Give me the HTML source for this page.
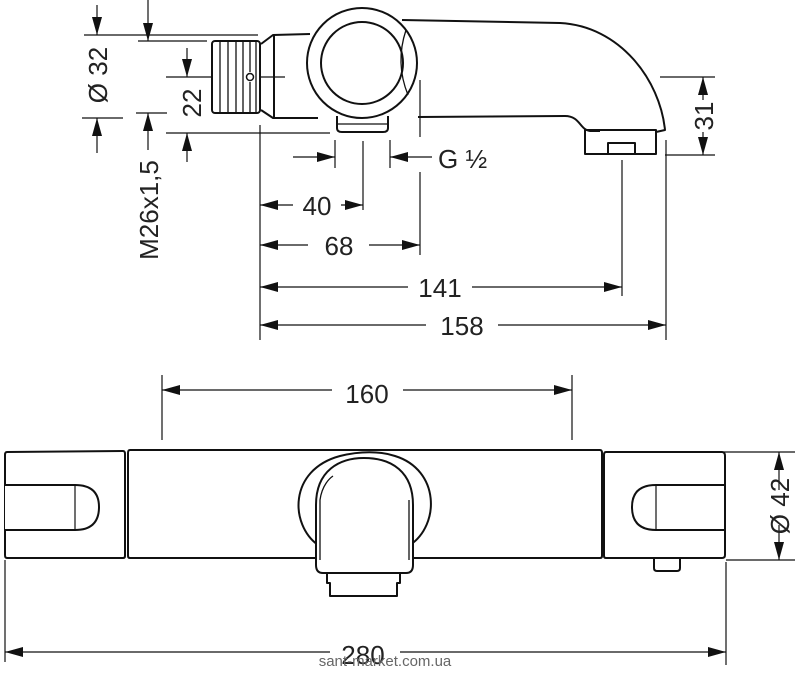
<!DOCTYPE html>
<html><head><meta charset="utf-8"><style>
html,body{margin:0;padding:0;background:#fff;}
svg{display:block;}
text{font-family:"Liberation Sans",sans-serif;fill:#222;}
</style></head><body>
<svg width="800" height="673" viewBox="0 0 800 673" xmlns="http://www.w3.org/2000/svg">
<defs>
<marker id="a" viewBox="0 0 18 10" refX="18" refY="5" markerWidth="18" markerHeight="10" markerUnits="userSpaceOnUse" orient="auto"><path d="M0,0 L18,5 L0,10 Z" fill="#111"/></marker>
</defs>
<g stroke="#111" fill="none" stroke-width="1.2">
<line x1="84" y1="35" x2="258" y2="35"/>
<line x1="82" y1="118" x2="123" y2="118"/>
<line x1="97" y1="5" x2="97" y2="35" marker-end="url(#a)"/>
<line x1="97" y1="153" x2="97" y2="118" marker-end="url(#a)"/>
<line x1="138" y1="41" x2="207" y2="41"/>
<line x1="136" y1="113" x2="167" y2="113"/>
<line x1="148" y1="0" x2="148" y2="41" marker-end="url(#a)"/>
<line x1="148" y1="150" x2="148" y2="113" marker-end="url(#a)"/>
<line x1="166" y1="77" x2="285" y2="77"/>
<line x1="166" y1="133" x2="330" y2="133"/>
<line x1="187" y1="48" x2="187" y2="77" marker-end="url(#a)"/>
<line x1="187" y1="162" x2="187" y2="133" marker-end="url(#a)"/>
</g>
<g stroke="#111" stroke-width="2" fill="#fff">
<rect x="212" y="41" width="48" height="72" rx="3"/>
</g>
<g stroke="#111" stroke-width="1.3">
<line x1="220" y1="42" x2="220" y2="112"/><line x1="228" y1="42" x2="228" y2="112"/><line x1="236" y1="42" x2="236" y2="112"/><line x1="243" y1="42" x2="243" y2="112"/><line x1="250" y1="42" x2="250" y2="72"/><line x1="250" y1="82" x2="250" y2="112"/><line x1="256" y1="42" x2="256" y2="112"/>
</g>
<circle cx="250" cy="77" r="3.5" fill="#fff" stroke="#111" stroke-width="1.5"/>
<g stroke="#111" stroke-width="2" fill="none" stroke-linejoin="round">
<path d="M261,44 L273,35 L310,34 M261,110 L273,118 L318,118"/>
<line x1="274" y1="35" x2="274" y2="118"/>
<path d="M402,20 L560,23 C620,26 660,80 665,130 L656,132"/>
<path d="M418,117 L565,116 C580,116 580,130 590,131 L600,131"/>
<rect x="585" y="130" width="71" height="24"/>
<rect x="608" y="143" width="27" height="11"/>
<path d="M337,116 L337,128 Q337,132 342,132 L383,132 Q388,132 388,128 L388,116"/>
<line x1="338" y1="124" x2="387" y2="124" stroke-width="1.2"/>
<circle cx="362" cy="63" r="55" fill="#fff"/>
<circle cx="362" cy="63" r="41"/>
<path d="M406,30 Q395,63 408,95" stroke-width="1.3"/>
</g>
<g stroke="#111" stroke-width="1.2" fill="none">
<line x1="260" y1="125" x2="260" y2="340"/>
<line x1="335" y1="140" x2="335" y2="168"/>
<line x1="363" y1="141" x2="363" y2="210"/>
<line x1="420" y1="80" x2="420" y2="137"/>
<line x1="390" y1="140" x2="390" y2="168"/>
<line x1="420" y1="172" x2="420" y2="255"/>
<line x1="622" y1="160" x2="622" y2="296"/>
<line x1="666" y1="140" x2="666" y2="340"/>
<line x1="293" y1="157" x2="335" y2="157" marker-end="url(#a)"/>
<line x1="432" y1="157" x2="390" y2="157" marker-end="url(#a)"/>
<line x1="293" y1="205" x2="260" y2="205" marker-end="url(#a)"/>
<line x1="341" y1="205" x2="363" y2="205" marker-end="url(#a)"/>
<line x1="308" y1="245" x2="260" y2="245" marker-end="url(#a)"/>
<line x1="369" y1="245" x2="420" y2="245" marker-end="url(#a)"/>
<line x1="408" y1="287" x2="260" y2="287" marker-end="url(#a)"/>
<line x1="472" y1="287" x2="622" y2="287" marker-end="url(#a)"/>
<line x1="426" y1="325" x2="260" y2="325" marker-end="url(#a)"/>
<line x1="498" y1="325" x2="666" y2="325" marker-end="url(#a)"/>
<line x1="660" y1="77" x2="715" y2="77"/>
<line x1="665" y1="155" x2="715" y2="155"/>
<line x1="703" y1="100" x2="703" y2="77" marker-end="url(#a)"/>
<line x1="703" y1="132" x2="703" y2="155" marker-end="url(#a)"/>
</g>
<g font-size="26">
<text x="317" y="215" text-anchor="middle">40</text>
<text x="339" y="255" text-anchor="middle">68</text>
<text x="440" y="297" text-anchor="middle">141</text>
<text x="462" y="335" text-anchor="middle">158</text>
<text x="438" y="168">G ½</text>
<text transform="translate(107,75) rotate(-90)" text-anchor="middle">Ø 32</text>
<text transform="translate(158,210) rotate(-90)" text-anchor="middle">M26x1,5</text>
<text transform="translate(201,103) rotate(-90)" text-anchor="middle">22</text>
<text transform="translate(713,116) rotate(-90)" text-anchor="middle">31</text>
</g>
<g stroke="#111" stroke-width="1.2" fill="none">
<line x1="162" y1="375" x2="162" y2="440"/>
<line x1="572" y1="375" x2="572" y2="440"/>
<line x1="332" y1="390" x2="162" y2="390" marker-end="url(#a)"/>
<line x1="403" y1="390" x2="572" y2="390" marker-end="url(#a)"/>
<line x1="5" y1="560" x2="5" y2="662"/>
<line x1="726" y1="562" x2="726" y2="665"/>
<line x1="330" y1="652" x2="5" y2="652" marker-end="url(#a)"/>
<line x1="400" y1="652" x2="726" y2="652" marker-end="url(#a)"/>
<line x1="720" y1="452" x2="795" y2="452"/>
<line x1="726" y1="560" x2="795" y2="560"/>
<line x1="779" y1="490" x2="779" y2="452" marker-end="url(#a)"/>
<line x1="779" y1="525" x2="779" y2="560" marker-end="url(#a)"/>
</g>
<g stroke="#111" stroke-width="2" fill="#fff" stroke-linejoin="round">
<path d="M7,452 L123,451 Q125,451 125,454 L125,556 Q125,558 123,558 L7,558 Q5,558 5,555 L5,455 Q5,452 7,452 Z"/>
<path d="M5,485 L75,485 Q99,485 99,507 Q99,530 75,530 L5,530"/>
<line x1="75" y1="485" x2="75" y2="530" stroke-width="1.2"/>
<path d="M130,450 L600,450 Q602,450 602,453 L602,556 Q602,558 600,558 L130,558 Q128,558 128,556 L128,453 Q128,450 130,450 Z"/>
<path d="M606,452 L722,452 Q725,452 725,456 L725,555 Q725,558 722,558 L606,558 Q604,558 604,556 L604,455 Q604,452 606,452 Z"/>
<path d="M724,485 L656,485 Q632,485 632,507 Q632,530 656,530 L724,530"/>
<line x1="656" y1="485" x2="656" y2="530" stroke-width="1.2"/>
<path d="M654,559 L654,568 Q654,571 657,571 L677,571 Q680,571 680,568 L680,559"/>
<path d="M318,545 C290,525 288,470 340,456 C360,451 380,451 395,456 C440,470 440,525 410,545"/>
<path d="M327,573 L400,573 L400,583 L397,583 L397,596 L330,596 L330,583 L327,583 Z"/>
<path d="M316,565 L316,505 C316,470 340,458 364,458 C392,458 413,472 413,505 L413,565 Q413,573 406,573 L323,573 Q316,573 316,565 Z"/>
<path d="M320,560 L320,500 C322,485 330,478 333,476" fill="none" stroke-width="1.3"/>
<path d="M409,560 L409,500" fill="none" stroke-width="1.3"/>
</g>
<text x="367" y="403" text-anchor="middle" font-size="26">160</text>
<text x="363" y="664" text-anchor="middle" font-size="26">280</text>
<text x="385" y="666" text-anchor="middle" font-size="15" style="fill:#666">sant-market.com.ua</text>
<text transform="translate(789,506) rotate(-90)" text-anchor="middle" font-size="26">Ø 42</text>
</svg>
</body></html>
